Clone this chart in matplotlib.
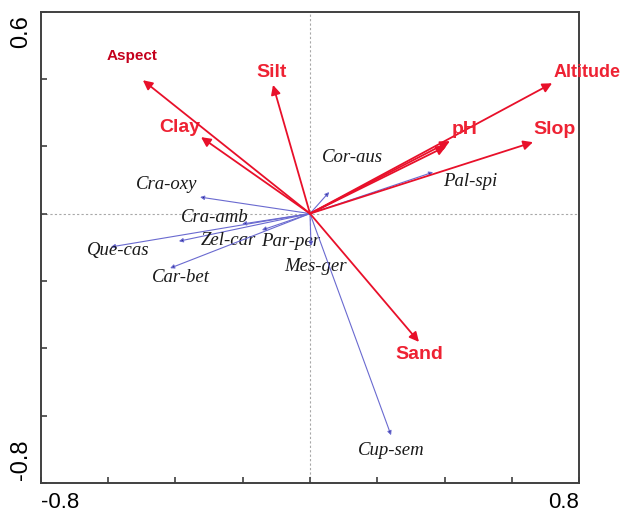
import matplotlib
matplotlib.use("Agg")
import matplotlib.pyplot as plt

# environmental variables (arrow tips) and where their names sit
env_names = ["Altitude", "Slop", "pH", "", "Silt", "Clay", "Aspect", "Sand"]
env_x = [0.720, 0.663, 0.416, 0.405, -0.110, -0.324, -0.497, 0.324]
env_y = [0.387, 0.212, 0.215, 0.200, 0.382, 0.227, 0.396, -0.381]
env_lab_x = [0.823, 0.726, 0.461, 0.0, -0.113, -0.387, -0.529, 0.324]
env_lab_y = [0.420, 0.251, 0.251, 0.0, 0.420, 0.257, 0.468, -0.417]

# species arrows
sp_names = ["Cra-oxy", "Cra-amb", "Zel-car", "Par-per", "Que-cas",
            "Car-bet", "Mes-ger", "Cor-aus", "Pal-spi", "Cup-sem"]
sp_x = [-0.327, -0.202, -0.390, -0.143, -0.592, -0.416, 0.003, 0.057, 0.366, 0.241]
sp_y = [0.049, -0.031, -0.082, -0.049, -0.099, -0.162, -0.096, 0.064, 0.123, -0.658]
sp_lab_x = [-0.425, -0.283, -0.244, -0.059, -0.571, -0.384, 0.015, 0.125, 0.476, 0.241]
sp_lab_y = [0.085, -0.013, -0.079, -0.082, -0.111, -0.189, -0.156, 0.168, 0.096, -0.702]

x_lim = (-0.8, 0.8)
y_lim = (-0.8, 0.6)


def main():
    fig = plt.figure(figsize=(6.21, 5.12), dpi=100)
    ax = fig.add_axes([0.066, 0.0566, 0.8664, 0.9209])
    ax.set_xlim(x_lim)
    ax.set_ylim(y_lim)

    ax.axhline(0, color="#a8a8a8", lw=0.8, ls=(0, (2, 2)), zorder=0)
    ax.axvline(0, color="#a8a8a8", lw=0.8, ls=(0, (2, 2)), zorder=0)

    # species first, underneath
    for name, x, y, lx, ly in zip(sp_names, sp_x, sp_y, sp_lab_x, sp_lab_y):
        ax.annotate("", xy=(x, y), xytext=(0, 0),
                    arrowprops=dict(arrowstyle="-|>", color="#6a6ad0", lw=0.8,
                                    mutation_scale=6, shrinkA=0, shrinkB=0,
                                    fc="#1a1a80"))
        ax.text(lx, ly, name, ha="center", va="center", fontsize=13.5,
                family="Liberation Serif", style="italic", color="#1a1a1a")

    for name, x, y, lx, ly in zip(env_names, env_x, env_y, env_lab_x, env_lab_y):
        ax.annotate("", xy=(x, y), xytext=(0, 0),
                    arrowprops=dict(arrowstyle="-|>", color="#e8102a", lw=1.3,
                                    mutation_scale=14, shrinkA=0, shrinkB=0))
        if name == "":
            continue
        if name == "Aspect":
            ax.text(lx, ly, name, ha="center", va="center", fontsize=11,
                    family="Liberation Sans", weight="bold", color="#c4001c")
        elif name == "Altitude":
            ax.text(lx, ly, name, ha="center", va="center", fontsize=13,
                    family="Liberation Sans", weight="bold", color="#ee2233",
                    clip_on=False)
        else:
            ax.text(lx, ly, name, ha="center", va="center", fontsize=14,
                    family="Liberation Sans", weight="bold", color="#ee2233",
                    clip_on=False)

    for s in ax.spines.values():
        s.set_color("#404040")
        s.set_linewidth(1.4)
    ax.set_xticks([-0.8, -0.6, -0.4, -0.2, 0, 0.2, 0.4, 0.6, 0.8])
    ax.set_yticks([-0.8, -0.6, -0.4, -0.2, 0, 0.2, 0.4, 0.6])
    ax.tick_params(direction="in", length=4, width=1.2, color="#404040",
                   labelbottom=False, labelleft=False)

    # only the end values are labelled
    big = dict(fontsize=16, family="Liberation Sans", color="black")
    ax.text(-0.8, -0.828, "-0.8", ha="left", va="top", clip_on=False, **big)
    ax.text(0.8, -0.828, "0.8", ha="right", va="top", clip_on=False, **big)
    ax.text(-0.826, 0.59, "0.6", ha="right", va="top", rotation=90,
            clip_on=False, fontsize=17, family="Liberation Sans")
    ax.text(-0.826, -0.79, "-0.8", ha="right", va="bottom", rotation=90,
            clip_on=False, fontsize=17, family="Liberation Sans")

    fig.savefig("out.png", dpi=100)
    plt.close(fig)


if __name__ == "__main__":
    main()
